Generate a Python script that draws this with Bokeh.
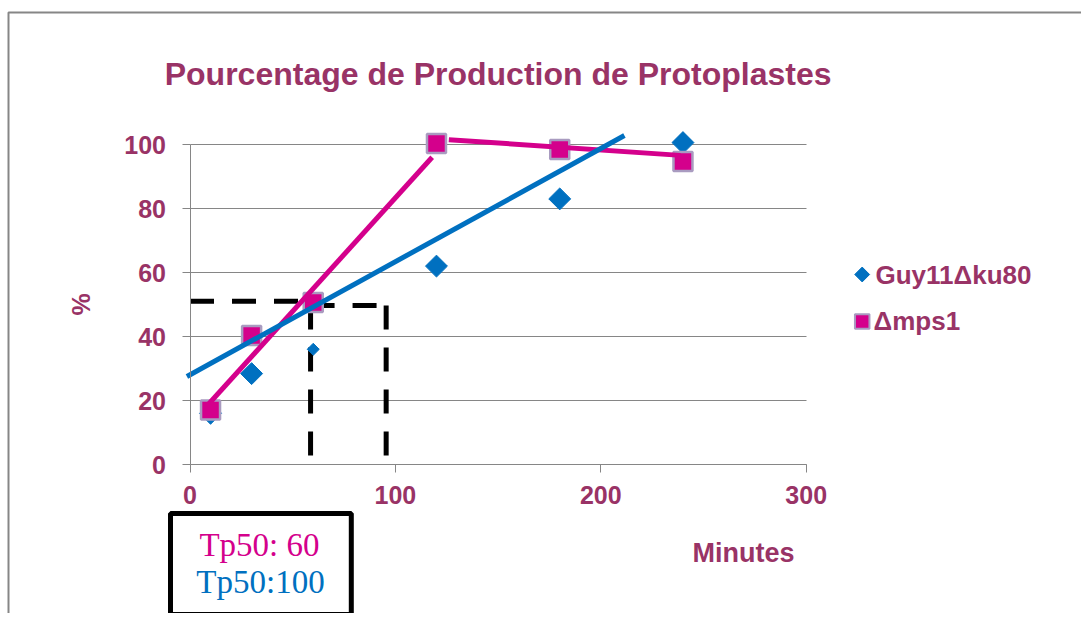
import math
from bokeh.plotting import figure
from bokeh.models import (Range1d, FixedTicker, Label, BoxAnnotation, LinearAxis, Grid)
from bokeh.embed import file_html
from bokeh.resources import INLINE

# ---- data ----
minutes = [10, 30, 60, 120, 180, 240]
guy11_pct = [16.0, 28.4, 36.0, 62.0, 83.0, 100.6]
mps1_pct = [17.0, 40.3, 50.6, 100.3, 98.4, 94.7]

# hand-drawn trend lines (end points)
guy11_trend_x = [-1.5, 211.5]
guy11_trend_y = [27.5, 102.8]
mps1_trend_a_x = [9.2, 117.9]
mps1_trend_a_y = [19.0, 96.0]
mps1_trend_b_x = [126.0, 238.8]
mps1_trend_b_y = [101.5, 96.6]

# Tp50 guide lines
tp50_h1_x = [0.0, 60.0]
tp50_h1_y = [51.0, 51.0]
tp50_h2_x = [58.7, 95.5]
tp50_h2_y = [49.7, 49.7]
tp50_v1_x = [58.7, 58.7]
tp50_v1_y = [49.7, 0.0]
tp50_v2_x = [95.5, 95.5]
tp50_v2_y = [49.7, 0.0]

x_ticks = [0, 100, 200, 300]
y_ticks = [0, 20, 40, 60, 80, 100]

title_text = "Pourcentage de Production de Protoplastes"
series_names = ["Guy11\u0394ku80", "\u0394mps1"]
x_label = "Minutes"
y_label = "%"
box_lines = ["Tp50: 60", "Tp50:100"]

# ---- styles ----
guy_sizes = [15.5, 15.5, 8.5, 15.5, 15.5, 15.5]
PLUM = "#993366"
PINK = "#D4008C"
BLUE = "#0070C0"
GRAY = "#868686"
LAVENDER = "#A99BC0"
SANS = "Liberation Sans"

W, H = 1081, 613
# pixel mapping of the reference: x=0 -> 189.5px, 2.054 px/unit ; y=0 -> 464px, 3.2 px/unit
X0, SX, Y0, SY = 189.5, 2.054, 464.0, 3.2


def dx(px):
    return (px - X0) / SX


def dy(py):
    return (Y0 - py) / SY


p = figure(width=W, height=H,
           x_range=Range1d(dx(0), dx(W)), y_range=Range1d(dy(H), dy(0)),
           output_backend="svg", toolbar_location=None,
           x_axis_location=None, y_axis_location=None,
           min_border=0, min_border_left=0, min_border_right=0,
           min_border_top=0, min_border_bottom=0)
p.outline_line_color = None
p.background_fill_color = "white"
p.border_fill_color = "white"
p.grid.visible = False

xaxis = LinearAxis(fixed_location=0, bounds=(0, 300), ticker=FixedTicker(ticks=x_ticks))
yaxis = LinearAxis(fixed_location=0, bounds=(0, 100), ticker=FixedTicker(ticks=y_ticks))
for ax in (xaxis, yaxis):
    ax.axis_line_color = GRAY
    ax.major_tick_line_color = GRAY
    ax.minor_tick_line_color = None
    ax.major_tick_in = 0
    ax.major_tick_out = 8
    ax.major_label_text_font = SANS
    ax.major_label_text_font_style = "bold"
    ax.major_label_text_font_size = "25px"
    ax.major_label_text_color = PLUM
xaxis.major_label_standoff = 13
yaxis.major_label_standoff = 16
p.add_layout(xaxis, "below")
p.add_layout(yaxis, "left")

ygrid = Grid(dimension=1, ticker=FixedTicker(ticks=y_ticks), grid_line_color=GRAY,
             grid_line_width=1)
if "cross_bounds" in Grid.properties():
    ygrid.cross_bounds = (0, 300)
    p.add_layout(ygrid)
else:
    p.segment(x0=[0] * len(y_ticks), x1=[300] * len(y_ticks), y0=y_ticks, y1=y_ticks,
              line_color=GRAY, line_width=1)

# outer chart border
p.add_layout(BoxAnnotation(left=dx(8), right=dx(W + 50), top=dy(12), bottom=dy(H + 50),
                           fill_alpha=0, line_color=GRAY, line_alpha=1, line_width=2))

# dashed guides
for gx, gy in ((tp50_h1_x, tp50_h1_y), (tp50_h2_x, tp50_h2_y),
               (tp50_v1_x, tp50_v1_y), (tp50_v2_x, tp50_v2_y)):
    p.line(gx, gy, line_color="black", line_width=5, line_dash="24 18")

p.scatter(minutes, guy11_pct, marker="square", size=guy_sizes, angle=math.pi / 4,
          fill_color=BLUE, line_color=BLUE, line_width=1)
p.scatter(minutes, mps1_pct, marker="square", size=19, fill_color=PINK,
          line_color=LAVENDER, line_width=2.5)

p.line(mps1_trend_a_x, mps1_trend_a_y, line_color=PINK, line_width=5)
p.line(mps1_trend_b_x, mps1_trend_b_y, line_color=PINK, line_width=5)
p.line(guy11_trend_x, guy11_trend_y, line_color=BLUE, line_width=5)


def add_text(px, py, text, size, color, align="center", font=SANS, style="bold", angle=0.0):
    p.add_layout(Label(x=dx(px), y=dy(py), text=text, text_align=align,
                       text_baseline="middle", angle=angle, text_font=font,
                       text_font_style=style, text_font_size=size, text_color=color))


# title and axis labels
add_text(497.6, 73.5, title_text, "32px", PLUM)
add_text(743, 552, x_label, "27px", PLUM)
add_text(80, 304, y_label, "25px", PLUM, angle=math.pi / 2)

# Tp50 box
p.add_layout(BoxAnnotation(left=dx(170), right=dx(350.8), top=dy(513), bottom=dy(614),
                           fill_color="white", fill_alpha=1, line_color="black",
                           line_alpha=1, line_width=5))
add_text(259, 544, box_lines[0], "33px", PINK, font="Liberation Serif", style="normal")
add_text(260, 581, box_lines[1], "33px", BLUE, font="Liberation Serif", style="normal")

# legend (keys + labels)
p.scatter([dx(861.7)], [dy(274)], marker="square", size=10.5, angle=math.pi / 4,
          fill_color=BLUE, line_color=BLUE, line_width=1)
p.scatter([dx(861.7)], [dy(321)], marker="square", size=14.5, fill_color=PINK,
          line_color=LAVENDER, line_width=2)
add_text(875, 274, series_names[0], "26px", PLUM, align="left")
add_text(873, 320, series_names[1], "26px", PLUM, align="left")

open("out.html", "w").write(file_html(p, INLINE))
